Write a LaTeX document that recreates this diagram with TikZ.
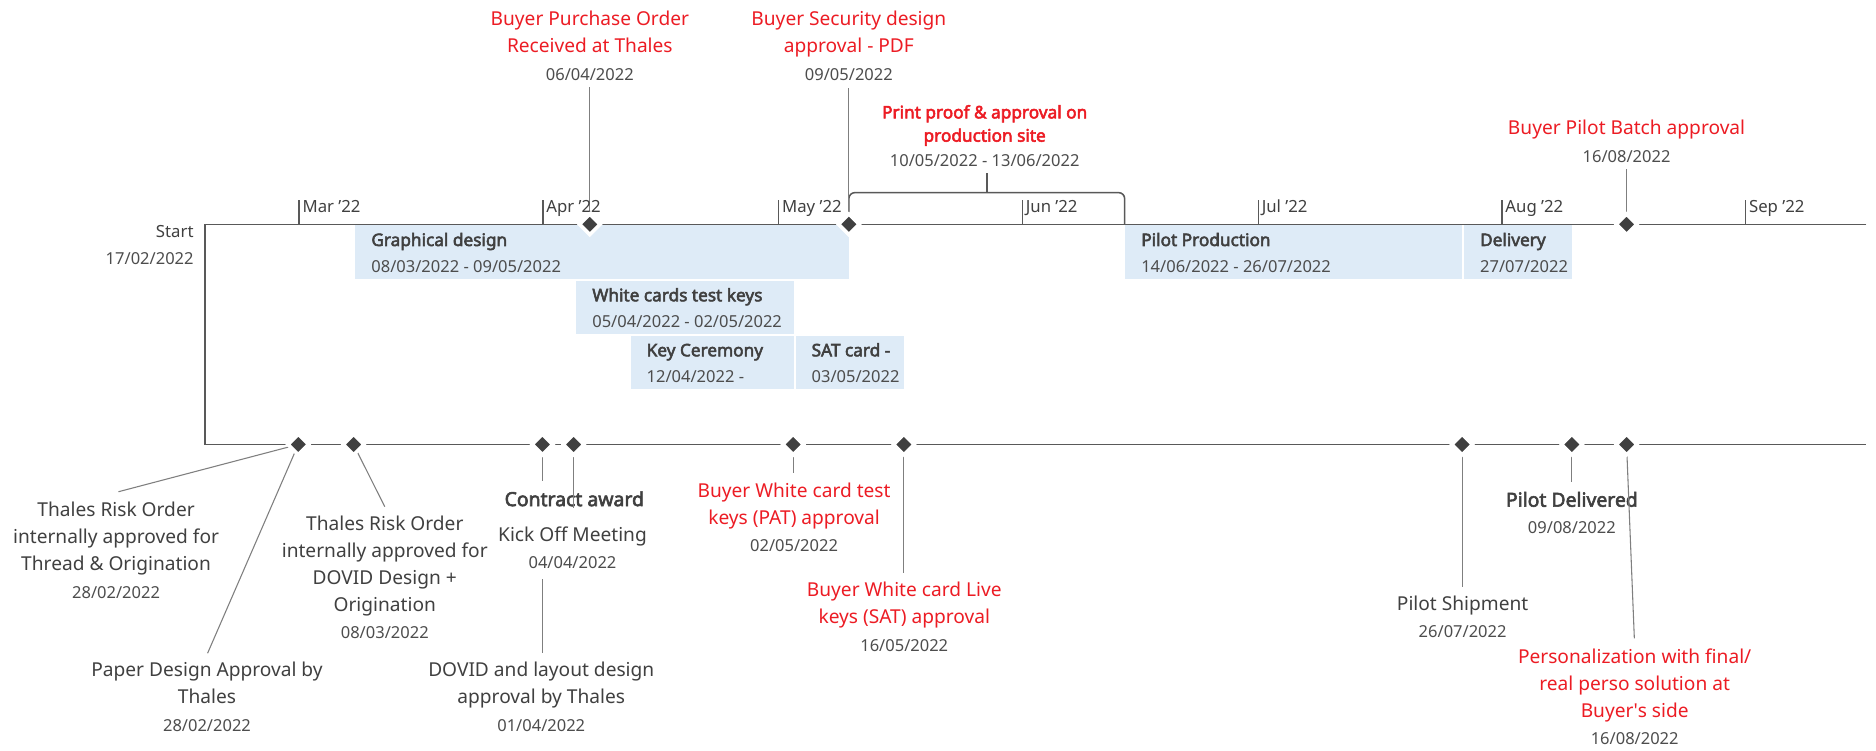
\documentclass[tikz,border=0pt]{standalone}
\usepackage{fontspec}
\setmainfont{Noto Sans}[AutoFakeBold=3]
\usetikzlibrary{shapes.geometric}
\definecolor{lnc}{HTML}{595959}
\definecolor{ldc}{HTML}{7F7F7F}
\definecolor{txc}{HTML}{404040}
\definecolor{dtc}{HTML}{4D4D4D}
\definecolor{rdc}{RGB}{236,28,36}
\definecolor{barc}{HTML}{DEEBF7}
\definecolor{dmc}{HTML}{404040}
\pgfdeclarelayer{bg}
\pgfdeclarelayer{fg}
\pgfsetlayers{bg,main,fg}
\tikzset{
  tline/.style={draw=lnc, line width=0.65pt},
  leader/.style={draw=ldc, line width=0.45pt},
  ms/.style={diamond, minimum size=9.2pt, inner sep=0pt, fill=dmc, draw=white, line width=1.5pt},
  bar/.style={fill=barc, inner sep=0pt, anchor=north west},
  lbl/.style={font=\fontsize{8pt}{11.3pt}\selectfont, text=txc, align=center, inner sep=0pt, anchor=base},
  rlbl/.style={lbl, text=rdc},
  dte/.style={font=\fontsize{6.9pt}{9pt}\selectfont, text=dtc, inner sep=0pt, anchor=base},
  blbl/.style={font=\fontsize{7.2pt}{9pt}\selectfont\bfseries, text=txc, inner sep=0pt, anchor=base west},
  bdte/.style={font=\fontsize{6.9pt}{9pt}\selectfont, text=dtc, inner sep=0pt, anchor=base west},
  big/.style={font=\fontsize{8.1pt}{10pt}\selectfont\bfseries, text=txc, inner sep=0pt, anchor=base},
  mon/.style={font=\fontsize{7pt}{9pt}\selectfont, text=txc, inner sep=0pt, anchor=base west},
  pplbl/.style={font=\fontsize{7.2pt}{9.75pt}\selectfont\bfseries, text=rdc, align=center, inner sep=0pt, anchor=base},
  wfill/.style={fill=white, inner ysep=4.5pt, inner xsep=0.5pt}
}
\begin{document}
\begin{tikzpicture}[x=0.5pt,y=-0.5pt]
\useasboundingbox (0,0) rectangle (1568,627);

% ---------- diamonds (foreground) ----------
\begin{pgfonlayer}{fg}
\node[ms] (m1) at (493,187.5) {};
\node[ms] (m2) at (709.5,187.5) {};
\node[ms] (m3) at (1359.5,187.5) {};
\node[ms] (n1) at (249.3,371.5) {};
\node[ms] (n2) at (295.5,371.5) {};
\node[ms] (n3) at (453.4,371.5) {};
\node[ms] (n4) at (479.5,371.5) {};
\node[ms] (n5) at (663,371.5) {};
\node[ms] (n6) at (755.5,371.5) {};
\node[ms] (n7) at (1222,371.5) {};
\node[ms] (n8) at (1313.8,371.5) {};
\node[ms] (n9) at (1359.5,371.5) {};
\end{pgfonlayer}

% ---------- coordinates ----------
\coordinate (ta) at (1560,187.5);
\coordinate (tb) at (171.5,187.5);
\coordinate (tc) at (171.5,371.5);
\coordinate (td) at (1560,371.5);
\coordinate (u1) at (493,73);
\coordinate (u2) at (709.5,73.5);
\coordinate (u3) at (1359.5,141.3);
\coordinate (pb0) at (709.5,187.5);
\coordinate (pb1) at (940,187.5);
\coordinate (pbt) at (825,161);
\coordinate (pbu) at (825,145);
\coordinate (e1) at (99,411);
\coordinate (e1b) at (173.5,546);
\coordinate (e2) at (321.6,423.5);
\coordinate (e3) at (453.4,546);
\coordinate (e4) at (479.5,425);
\coordinate (e5) at (663,395.6);
\coordinate (e6) at (755.5,478.6);
\coordinate (e7) at (1222,490.3);
\coordinate (e8) at (1313.8,403.2);
\coordinate (e9) at (1366,533.5);

% ---------- background: bars, timeline, leaders ----------
\begin{pgfonlayer}{bg}
\node[bar, minimum width=206.5pt, minimum height=22.3pt] (gd) at (296.5,188) {};
\node[bar, minimum width=140.9pt, minimum height=22.3pt] (pp) at (940,188) {};
\node[bar, minimum width=45.2pt, minimum height=22.3pt] (dl) at (1223.2,188) {};
\node[bar, minimum width=90.9pt, minimum height=22pt] (wc) at (481.2,234.6) {};
\node[bar, minimum width=68.2pt, minimum height=22pt] (kc) at (526.6,280.6) {};
\node[bar, minimum width=45.25pt, minimum height=22pt] (sat) at (664.5,280.6) {};

\draw[tline] (ta) -- (tb) -- (tc) -- (td);
\foreach \x [count=\i] in {250,453.7,650.8,854.5,1051.7,1255.4,1459} {
  \coordinate (tk\i) at (\x,187.5);
  \coordinate (tt\i) at (\x,167.5);
  \draw[tline] (tk\i) -- (tt\i);
}
\draw[tline, rounded corners=2.5pt] (pb0) -- (709.5,161) -- (940,161) -- (pb1);
\draw[tline] (pbt) -- (pbu);

\draw[leader] (m1.center) -- (u1);
\draw[leader] (m2.center) -- (u2);
\draw[leader] (m3.center) -- (u3);
\draw[leader] (n1.center) -- (e1);
\draw[leader] (n1.center) -- (e1b);
\draw[leader] (n2.center) -- (e2);
\draw[leader] (n3.center) -- (e3);
\draw[leader] (n5.center) -- (e5);
\draw[leader] (n6.center) -- (e6);
\draw[leader] (n7.center) -- (e7);
\draw[leader] (n8.center) -- (e8);
\end{pgfonlayer}

% ---------- month labels ----------
\node[mon] (mo1) at (252.5,177.8) {Mar ’22};
\node[mon] (mo2) at (456.2,177.8) {Apr ’22};
\node[mon] (mo3) at (653.3,177.8) {May ’22};
\node[mon] (mo4) at (857,177.8) {Jun ’22};
\node[mon] (mo5) at (1054.2,177.8) {Jul ’22};
\node[mon] (mo6) at (1257.9,177.8) {Aug ’22};
\node[mon] (mo7) at (1461.5,177.8) {Sep ’22};

\node[mon, anchor=base east] (st) at (162.2,198.7) {Start};
\node[dte, anchor=base east] (std) at (162.2,220.9) {17/02/2022};

% ---------- bar texts ----------
\node[blbl] (gdl) at (310,205.6) {Graphical design};
\node[bdte] (gdd) at (310,227.9) {08/03/2022 - 09/05/2022};
\node[blbl] (ppl) at (953.5,205.6) {Pilot Production};
\node[bdte] (ppd) at (953.5,227.9) {14/06/2022 - 26/07/2022};
\node[blbl] (dll) at (1236.7,205.6) {Delivery};
\node[bdte] (dld) at (1236.7,227.9) {27/07/2022};
\node[blbl] (wcl) at (494.7,251.8) {White cards test keys};
\node[bdte] (wcd) at (494.7,273.7) {05/04/2022 - 02/05/2022};
\node[blbl] (kcl) at (540.1,297.8) {Key Ceremony};
\node[bdte] (kcd) at (540.1,319.5) {12/04/2022 -};
\node[blbl] (satl) at (678,297.8) {SAT card -};
\node[bdte] (satd) at (678,319.5) {03/05/2022};

% ---------- upper milestone labels (y = last baseline) ----------
\node[rlbl] (t1) at (493,43.6) {Buyer Purchase Order\\Received at Thales};
\node[dte] (t1d) at (493,67) {06/04/2022};
\node[rlbl] (t2) at (709.5,44) {Buyer Security design\\approval - PDF};
\node[dte] (t2d) at (709.5,67.5) {09/05/2022};
\node[pplbl] (t3) at (823,118.4) {Print proof \& approval on\\production site};
\node[dte] (t3d) at (823,139.3) {10/05/2022 - 13/06/2022};
\node[rlbl] (t4) at (1359.5,112.8) {Buyer Pilot Batch approval};
\node[dte] (t4d) at (1359.5,135.7) {16/08/2022};

% ---------- lower milestone labels (y = last baseline) ----------
\node[lbl] (b1) at (97,477) {Thales Risk Order\\internally approved for\\Thread \& Origination};
\node[dte] (b1d) at (97,500) {28/02/2022};
\node[lbl] (b2) at (173,587.9) {Paper Design Approval by\\Thales};
\node[dte] (b2d) at (173,611.5) {28/02/2022};
\node[lbl] (b3) at (321.6,511.3) {Thales Risk Order\\internally approved for\\DOVID Design +\\Origination};
\node[dte] (b3d) at (321.6,533.5) {08/03/2022};
\node[lbl] (b4) at (452.4,587.9) {DOVID and layout design\\approval by Thales};
\node[dte] (b4d) at (452.4,611.5) {01/04/2022};
\node[big, wfill] (b5) at (480,423) {Contract award};
\node[lbl, wfill] (b5k) at (478.5,452.7) {Kick Off Meeting};
\node[dte, wfill] (b5d) at (478.5,475) {04/04/2022};
\draw[leader] (n4.center) -- (e4);
\node[rlbl] (b6) at (663.7,438) {Buyer White card test\\keys (PAT) approval};
\node[dte] (b6d) at (663.7,461.1) {02/05/2022};
\node[rlbl] (b7) at (755.8,521) {Buyer White card Live\\keys (SAT) approval};
\node[dte] (b7d) at (755.8,544.7) {16/05/2022};
\node[lbl] (b8) at (1222.5,509.9) {Pilot Shipment};
\node[dte] (b8d) at (1222.5,532.7) {26/07/2022};
\node[big] (b9) at (1313.8,423.5) {Pilot Delivered};
\node[dte] (b9d) at (1313.8,445.8) {09/08/2022};
\node[rlbl] (b10) at (1366.3,599.6) {Personalization with final/\\real perso solution at\\Buyer\textquotesingle s side};
\node[dte] (b10d) at (1366.3,622.1) {16/08/2022};
\draw[leader] (n9.center) -- (e9);
\end{tikzpicture}
\end{document}
